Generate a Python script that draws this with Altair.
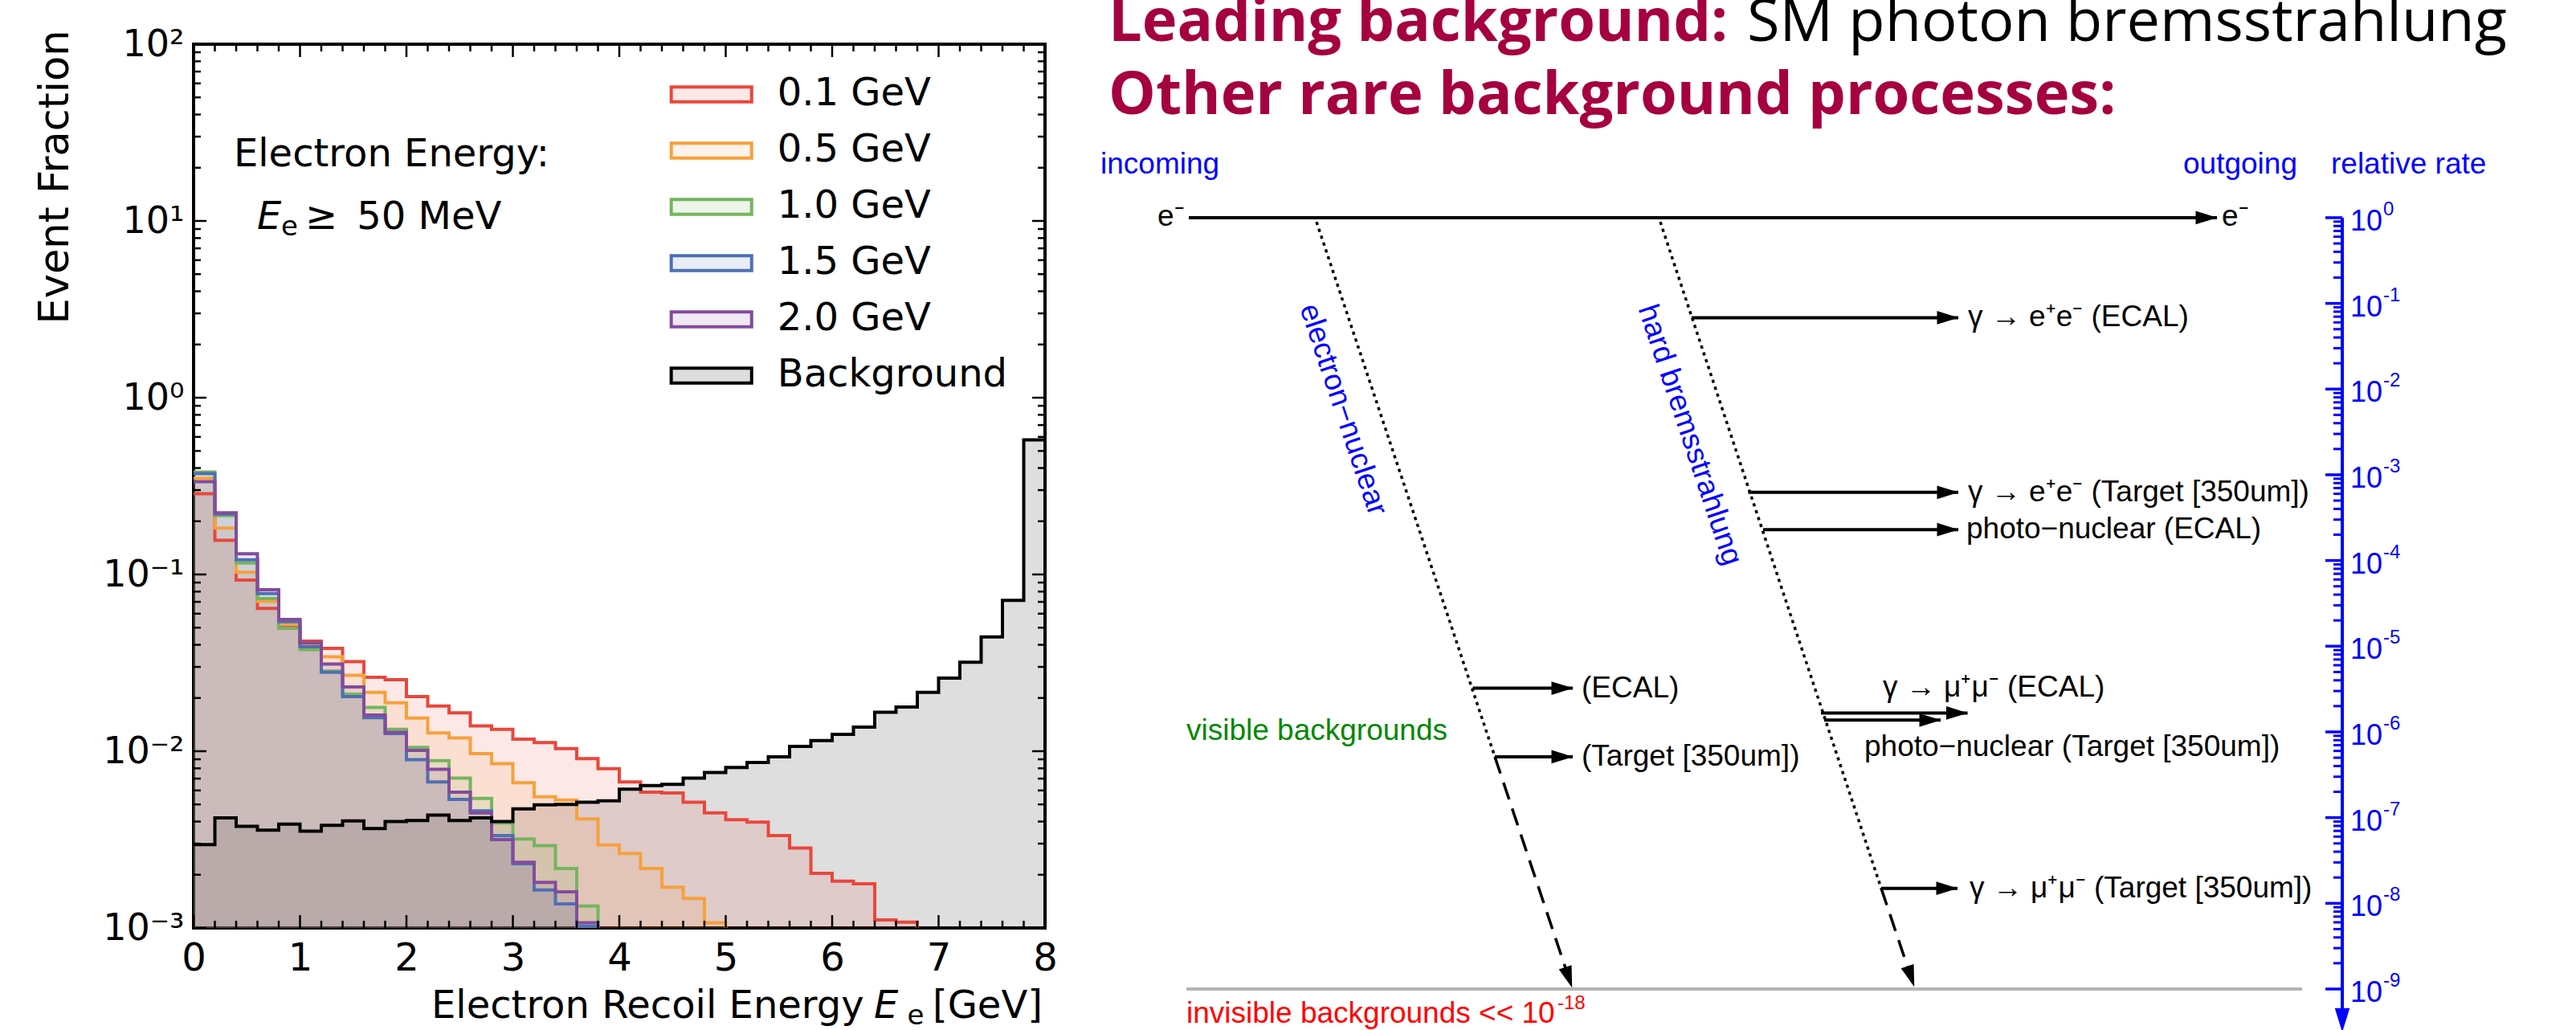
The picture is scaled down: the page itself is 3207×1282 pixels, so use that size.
import math
import altair as alt
import pandas as pd

# =====================================================================
# Left panel: electron recoil energy histograms (event fraction per bin)
# =====================================================================
series_names = ["0.1 GeV", "0.5 GeV", "1.0 GeV", "1.5 GeV", "2.0 GeV", "Background"]
line_colors = ["#e8473d", "#f6a13c", "#74b55e", "#4e6fb3", "#834b9b", "#000000"]
legend_fills = ["#fde8e7", "#fdf3ea", "#eef5ea", "#e9ecf5", "#f1e8f3", "#dedede"]

bin_edges = [round(0.2 * i, 1) for i in range(41)]  # 0 ... 8 GeV, 40 bins

frac_0p1 = [0.286, 0.156, 0.093, 0.0643, 0.0502, 0.042, 0.0382, 0.0321, 0.0262, 0.0254,
            0.0204, 0.018, 0.0165, 0.0139, 0.0133, 0.0117, 0.0112, 0.01035, 0.00908, 0.00796,
            0.0067, 0.00586, 0.0058, 0.00515, 0.00448, 0.0041, 0.00397, 0.00333, 0.00283, 0.00204,
            0.00184, 0.00178, 0.00111, 0.00108, 0, 0, 0, 0, 0, 0]
frac_0p5 = [0.35, 0.183, 0.103, 0.0705, 0.0527, 0.040, 0.0342, 0.0269, 0.0215, 0.0188,
            0.0154, 0.0127, 0.0119, 0.0097, 0.0085, 0.00663, 0.00552, 0.0053, 0.00414, 0.00295,
            0.00264, 0.00217, 0.0017, 0.00147, 0.00107, 0, 0, 0, 0, 0,
            0, 0, 0, 0, 0, 0, 0, 0, 0, 0]
frac_1p0 = [0.38, 0.215, 0.116, 0.073, 0.0496, 0.0376, 0.0284, 0.021, 0.0177, 0.0133,
            0.0105, 0.00884, 0.00705, 0.0054, 0.00393, 0.00319, 0.00292, 0.00217, 0.00133, 0,
            0, 0, 0, 0, 0, 0, 0, 0, 0, 0,
            0, 0, 0, 0, 0, 0, 0, 0, 0, 0]
frac_1p5 = [0.372, 0.22, 0.121, 0.078, 0.054, 0.039, 0.028, 0.0204, 0.0155, 0.0126,
            0.00895, 0.0067, 0.00534, 0.0046, 0.00333, 0.00231, 0.00164, 0.00137, 0.00102, 0,
            0, 0, 0, 0, 0, 0, 0, 0, 0, 0,
            0, 0, 0, 0, 0, 0, 0, 0, 0, 0]
frac_2p0 = [0.335, 0.223, 0.131, 0.082, 0.0557, 0.041, 0.0311, 0.0231, 0.016, 0.0128,
            0.0101, 0.0079, 0.00587, 0.00448, 0.00316, 0.00235, 0.00181, 0.0016, 0.00107, 0,
            0, 0, 0, 0, 0, 0, 0, 0, 0, 0,
            0, 0, 0, 0, 0, 0, 0, 0, 0, 0]
frac_bkg = [0.00296, 0.0042, 0.00376, 0.00358, 0.00387, 0.00353, 0.00381, 0.00403, 0.00365, 0.0040,
            0.00405, 0.00435, 0.00405, 0.0042, 0.0040, 0.00472, 0.00497, 0.0050, 0.00515, 0.00524,
            0.0061, 0.0064, 0.0065, 0.00705, 0.00757, 0.0081, 0.00863, 0.0093, 0.01064, 0.0115,
            0.01245, 0.0137, 0.0166, 0.0178, 0.0215, 0.0259, 0.0319, 0.0443, 0.0713, 0.578]

all_fracs = [frac_0p1, frac_0p5, frac_1p0, frac_1p5, frac_2p0, frac_bkg]

x_major_ticks = [0, 1, 2, 3, 4, 5, 6, 7, 8]
x_minor_ticks = [round(0.2 * i, 1) for i in range(41) if i % 5 != 0]
y_major_ticks = [1e-3, 1e-2, 1e-1, 1e0, 1e1, 1e2]
y_minor_ticks = [m * 10.0 ** k for k in range(-3, 2) for m in range(2, 10)]

FLOOR = 1e-6          # drawing floor for empty bins (outside the visible range)
Y_MIN, Y_MAX = 1e-3, 1e2

rows = []
for idx in [5, 0, 1, 2, 3, 4]:
    name, vals = series_names[idx], all_fracs[idx]
    for i in range(40):
        rows.append({"series": name, "E": bin_edges[i], "frac": vals[i] if vals[i] > 0 else FLOOR,
                     "base": Y_MIN, "hidden": FLOOR})
    rows.append({"series": name, "E": bin_edges[40], "frac": vals[-1] if vals[-1] > 0 else FLOOR,
                 "base": Y_MIN, "hidden": FLOOR})
hist_df = pd.DataFrame(rows)

LFONT = "DejaVu Sans"
XS = alt.Scale(domain=[0, 8], nice=False, zero=False)
YS = alt.Scale(type="log", domain=[Y_MIN, Y_MAX], nice=False)
# colour scale for the drawn histograms (kept distinct from the legend scales)
cscale = alt.Scale(domain=series_names + ["_"], range=line_colors + ["#000000"])

y_label_expr = ("datum.value >= 50 ? '10\u00b2' : datum.value >= 5 ? '10\u00b9' : "
                "datum.value >= 0.5 ? '10\u2070' : datum.value >= 0.05 ? '10\u207b\u00b9' : "
                "datum.value >= 0.005 ? '10\u207b\u00b2' : '10\u207b\u00b3'")

x_main = alt.X("E:Q", scale=XS, axis=alt.Axis(
    values=x_major_ticks, format="d", ticks=False, domain=False, grid=False,
    labelFont=LFONT, labelFontSize=48, labelColor="black", labelPadding=14, labelFlush=False,
    title=""))
y_main = alt.Y("frac:Q", stack=None, scale=YS, axis=alt.Axis(
    values=y_major_ticks, labelExpr=y_label_expr, ticks=False, domain=False, grid=False,
    labelFont=LFONT, labelFontSize=46, labelColor="black", labelPadding=12, labelFlush=False,
    title="Event Fraction", titleFont=LFONT, titleFontSize=51,
    titleFontWeight="normal", titleColor="black", titleAngle=270, titleX=-172, titleY=165,
    titleAlign="center", titleBaseline="middle"))

xq = alt.X("E:Q", scale=XS)
yq = alt.Y("frac:Q", stack=None, scale=YS)

base = alt.Chart(hist_df)
area_bkg = base.transform_filter(alt.datum.series == "Background").mark_area(
    interpolate="step-after", fillOpacity=0.13, clip=True).encode(
    x=x_main, y=y_main, y2="base:Q", color=alt.Color("series:N", scale=cscale, legend=None))
area_sig = base.transform_filter(alt.datum.series != "Background").mark_area(
    interpolate="step-after", fillOpacity=0.125, clip=True).encode(
    x=xq, y=yq, y2="base:Q", color=alt.Color("series:N", scale=cscale, legend=None))
line_sig = base.transform_filter(alt.datum.series != "Background").mark_line(
    interpolate="step-after", strokeWidth=4, clip=True).encode(
    x=xq, y=yq, color=alt.Color("series:N", scale=cscale, legend=None))
line_bkg = base.transform_filter(alt.datum.series == "Background").mark_line(
    interpolate="step-after", strokeWidth=4, clip=True).encode(
    x=xq, y=yq, color=alt.Color("series:N", scale=cscale, legend=None))

# legend: a filled-patch legend and an outline legend drawn on top of each other
leg_common = dict(orient="none", legendX=607.7, legendY=25.4,
                  symbolType="M-1.43,-0.264H1.43V0.264H-1.43Z", symbolSize=4900,
                  symbolStrokeWidth=4, labelFont=LFONT, labelFontSize=48, labelColor="black",
                  labelOffset=45, labelLimit=500, rowPadding=9, padding=0, values=series_names)
legend_fill_layer = base.mark_point(filled=True, opacity=1, clip=True).encode(
    x=xq, y=alt.Y("hidden:Q", scale=YS),
    fill=alt.Fill("series:N", title="",
                  scale=alt.Scale(domain=series_names, range=legend_fills),
                  legend=alt.Legend(symbolStrokeColor="transparent", **leg_common)))
legend_line_layer = base.mark_point(filled=False, opacity=1, strokeWidth=4, clip=True).encode(
    x=xq, y=alt.Y("hidden:Q", scale=YS),
    stroke=alt.Stroke("series:N", title="",
                      scale=alt.Scale(domain=series_names[::-1], range=line_colors[::-1]),
                      legend=alt.Legend(symbolFillColor="transparent", labelOpacity=0,
                                        **leg_common)))

TICKW = 2.5
def xtick_layer(vals, yv, off):
    return alt.Chart(pd.DataFrame({"E": vals})).mark_rule(
        color="black", strokeWidth=TICKW, y2Offset=off).encode(
        x=xq, y=alt.YDatum(yv, scale=YS), y2=alt.Y2Datum(yv))

def ytick_layer(vals, xv, off):
    return alt.Chart(pd.DataFrame({"frac": vals})).mark_rule(
        color="black", strokeWidth=TICKW, x2Offset=off).encode(
        y=alt.Y("frac:Q", scale=YS), x=alt.XDatum(xv, scale=XS), x2=alt.X2Datum(xv))

tick_layers = [
    xtick_layer(x_major_ticks, Y_MIN, -16), xtick_layer(x_minor_ticks, Y_MIN, -9),
    xtick_layer(x_major_ticks, Y_MAX, 16), xtick_layer(x_minor_ticks, Y_MAX, 9),
    ytick_layer(y_major_ticks, 0, 16), ytick_layer(y_minor_ticks, 0, 9),
    ytick_layer(y_major_ticks, 8, -16), ytick_layer(y_minor_ticks, 8, -9),
]

# annotations: "Electron Energy:" / "E_e >= 50 MeV" and the x-axis title with italic E_e
annot_text = ["Electron Energy:", "E", "e", "\u2265\u200250 MeV",
              "Electron Recoil Energy", "E", "e", "[GeV]"]
annot_E = [0.377, 0.596, 0.823, 1.049, 2.234, 6.392, 6.705, 6.943]
annot_frac = [20.4, 9.0, 8.28, 9.0, 3.1e-4, 3.1e-4, 2.85e-4, 3.1e-4]
annot_size = [48, 48, 34, 48, 48, 48, 34, 48]
annot_style = ["normal", "italic", "normal", "normal", "normal", "italic", "normal", "normal"]

def ann_layer(i):
    df = pd.DataFrame({"E": [annot_E[i]], "frac": [annot_frac[i]], "t": [annot_text[i]]})
    return alt.Chart(df).mark_text(align="left", baseline="alphabetic", font=LFONT,
                                   fontSize=annot_size[i], fontStyle=annot_style[i],
                                   color="black").encode(
        x=xq, y=alt.Y("frac:Q", scale=YS), text="t:N")

ann_layers = [ann_layer(i) for i in range(len(annot_text))]

left = alt.layer(area_bkg, area_sig, line_sig, line_bkg, legend_fill_layer, legend_line_layer,
                 *tick_layers, *ann_layers).properties(
    width=1060, height=1100, view=alt.ViewBackground(stroke="black", strokeWidth=4))

# =====================================================================
# Right panel: schematic of rare background processes vs relative rate
# u = horizontal position along the diagram, lg = log10(relative rate)
# =====================================================================
RFONT = "Liberation Sans"
MAGENTA = "#a5003f"

arrow_u0 = [113, 739, 809.5, 828, 900, 904, 975, 466.5, 494]
arrow_u1 = [1393, 1071, 1071, 1071, 1082.5, 1049, 1070, 591, 591]
arrow_lg = [0.0, -1.167, -3.205, -3.64, -5.779, -5.862, -7.825, -5.49, -6.29]

branch_text = ["\u03b3 \u2192 e\u207ae\u207b (ECAL)", "\u03b3 \u2192 e\u207ae\u207b (Target [350um])",
               "photo\u2212nuclear (ECAL)", "\u03b3 \u2192 \u03bc\u207a\u03bc\u207b (ECAL)",
               "photo\u2212nuclear (Target [350um])", "\u03b3 \u2192 \u03bc\u207a\u03bc\u207b (Target [350um])",
               "(ECAL)", "(Target [350um])"]
branch_u = [1083, 1083, 1081, 977, 954, 1085, 602, 602]
branch_lg = [-1.167, -3.205, -3.64, -5.489, -6.176, -7.825, -5.49, -6.29]

dotted_u0 = [272, 700]
dotted_lg0 = [-0.05, -0.05]
dotted_u1 = [494, 975]
dotted_lg1 = [-6.29, -7.825]

dashed_u0 = [494, 975]
dashed_lg0 = [-6.29, -7.825]
dashed_u1 = [590, 1016]
dashed_lg1 = [-8.98, -8.97]
dashed_head_u = [585.9, 1011.9]
dashed_head_lg = [-8.865, -8.854]
slant_angle = 71.5

process_labels = ["electron\u2212nuclear", "hard bremsstrahlung"]
process_u = [305, 736.5]
process_lg = [-2.24, -2.535]

header_text = ["incoming", "outgoing", "relative rate"]
header_u = [3, 1351, 1535]
header_lg = [0.515, 0.515, 0.515]

electron_text = ["e\u207b", "e\u207b"]
electron_u = [74, 1399]
electron_lg = [-0.094, -0.094]

rate_axis_u = 1549
rate_axis_top_lg = 0.0
rate_axis_head_lg = -9.363
rate_exponents = [0, -1, -2, -3, -4, -5, -6, -7, -8, -9]
rate_minor_lg = [math.log10(m) + k for k in range(-9, 0) for m in range(2, 10)]
label_u = 1559

floor_line_u = [110, 1499]
floor_lg = -9.0

title1_bold = "Leading background:"
title1_rest = "SM photon bremsstrahlung"
title2_bold = "Other rare background processes:"
title_u = [13, 808, 13]
title_lg = [2.062, 2.062, 1.209]

RX = alt.Scale(domain=[0, 1800], nice=False, zero=False)
RY = alt.Scale(type="log", domain=[10 ** -9.525, 10 ** 2.0243], nice=False)

def rx(f):
    return alt.X(f, type="quantitative", scale=RX, axis=None)

def ry(f):
    return alt.Y(f, type="quantitative", scale=RY, axis=None)

def r(lgs):
    return [10 ** v for v in lgs]

ARROW = "M-1,-0.62L1,0L-1,0.62Z"

arr_df = pd.DataFrame({"u0": arrow_u0, "u1": arrow_u1, "r": r(arrow_lg)})
h_arrows = alt.Chart(arr_df).mark_rule(color="black", strokeWidth=4).encode(
    x=rx("u0"), x2="u1", y=ry("r"))
h_heads = alt.Chart(arr_df).mark_point(shape=ARROW, filled=True, size=729, color="black",
                                      opacity=1, xOffset=-13).encode(x=rx("u1"), y=ry("r"))

dot_df = pd.DataFrame({"u0": dotted_u0, "u1": dotted_u1, "r0": r(dotted_lg0), "r1": r(dotted_lg1)})
dotted = alt.Chart(dot_df).mark_rule(color="black", strokeWidth=3.5, strokeDash=[4, 5]).encode(
    x=rx("u0"), x2="u1", y=ry("r0"), y2="r1")
dsh_df = pd.DataFrame({"u0": dashed_u0, "u1": dashed_u1, "r0": r(dashed_lg0), "r1": r(dashed_lg1)})
dashed = alt.Chart(dsh_df).mark_rule(color="black", strokeWidth=3.5, strokeDash=[22, 12]).encode(
    x=rx("u0"), x2="u1", y=ry("r0"), y2="r1")
dh_df = pd.DataFrame({"u": dashed_head_u, "r": r(dashed_head_lg)})
dashed_heads = alt.Chart(dh_df).mark_point(shape=ARROW, filled=True, size=729, color="black",
                                          opacity=1, angle=slant_angle).encode(x=rx("u"), y=ry("r"))

floor_df = pd.DataFrame({"u0": [floor_line_u[0]], "u1": [floor_line_u[1]], "r": r([floor_lg])})
floor_rule = alt.Chart(floor_df).mark_rule(color="#b4b4b4", strokeWidth=4).encode(
    x=rx("u0"), x2="u1", y=ry("r"))

ax_df = pd.DataFrame({"u": [rate_axis_u], "r0": r([rate_axis_top_lg]), "r1": r([rate_axis_head_lg])})
ax_line = alt.Chart(ax_df).mark_rule(color="blue", strokeWidth=4).encode(
    x=rx("u"), x2="u", y=ry("r0"), y2="r1")
ax_head = alt.Chart(ax_df).mark_point(shape=ARROW, filled=True, size=900, color="blue",
                                     opacity=1, angle=90).encode(x=rx("u"), y=ry("r1"))
maj_df = pd.DataFrame({"u": [rate_axis_u] * len(rate_exponents), "r": r(rate_exponents),
                       "lu": [label_u] * len(rate_exponents),
                       "sup": [str(e) for e in rate_exponents]})
min_df = pd.DataFrame({"u": [rate_axis_u] * len(rate_minor_lg), "r": r(rate_minor_lg)})
ax_major = alt.Chart(maj_df).mark_rule(color="blue", strokeWidth=3.5, x2Offset=-21).encode(
    x=rx("u"), x2="u", y=ry("r"))
ax_minor = alt.Chart(min_df).mark_rule(color="blue", strokeWidth=3, x2Offset=-11).encode(
    x=rx("u"), x2="u", y=ry("r"))
ax_lab = alt.Chart(maj_df).mark_text(align="left", baseline="alphabetic", dy=16, fontSize=36,
                                     font=RFONT, color="blue", text="10").encode(
    x=rx("lu"), y=ry("r"))
ax_sup = alt.Chart(maj_df).mark_text(align="left", baseline="alphabetic", dx=41, dy=-3, fontSize=24,
                                     font=RFONT, color="blue").encode(
    x=rx("lu"), y=ry("r"), text="sup:N")

def text_layer(texts, us, lgs, **kw):
    df = pd.DataFrame({"u": us, "r": r(lgs), "t": texts})
    return alt.Chart(df).mark_text(**kw).encode(x=rx("u"), y=ry("r"), text="t:N")

branch_txt = text_layer(branch_text, branch_u, branch_lg, align="left", baseline="middle",
                        fontSize=37, font=RFONT, color="black")
header_txt = text_layer(header_text, header_u, header_lg, align="left", baseline="alphabetic",
                        fontSize=37, font=RFONT, color="blue")
electron_txt = text_layer(electron_text, electron_u, electron_lg, align="left",
                          baseline="alphabetic", fontSize=37, font=RFONT, color="black")
process_txt = text_layer(process_labels, process_u, process_lg, align="center", baseline="middle",
                         fontSize=37, font=RFONT, color="blue", angle=slant_angle)
visible_txt = text_layer(["visible backgrounds"], [110], [-6.09], align="left",
                         baseline="alphabetic", fontSize=37, font=RFONT, color="#008800")
invisible_txt = text_layer(["invisible backgrounds << 10"], [110], [-9.391], align="left",
                           baseline="alphabetic", fontSize=37, font=RFONT, color="red")
invisible_sup = text_layer(["-18"], [572], [-9.232], align="left", baseline="alphabetic",
                           fontSize=24, font=RFONT, color="red")
t1a = text_layer([title1_bold], [title_u[0]], [title_lg[0]], align="left", baseline="alphabetic",
                 fontSize=74, font="Open Sans", fontWeight="bold", color=MAGENTA)
t1b = text_layer([title1_rest], [title_u[1]], [title_lg[1]], align="left", baseline="alphabetic",
                 fontSize=74, font="Open Sans", color="black")
t2 = text_layer([title2_bold], [title_u[2]], [title_lg[2]], align="left", baseline="alphabetic",
                fontSize=74, font="Open Sans", fontWeight="bold", color=MAGENTA)

right = alt.layer(floor_rule, dotted, dashed, dashed_heads, h_arrows, h_heads,
                  ax_line, ax_head, ax_major, ax_minor, ax_lab, ax_sup,
                  branch_txt, header_txt, electron_txt, process_txt, visible_txt,
                  invisible_txt, invisible_sup, t1a, t1b, t2).properties(
    width=1800, height=1232, view=alt.ViewBackground(stroke="transparent", strokeWidth=0))

chart = alt.hconcat(left, right, spacing=48).properties(
    padding={"left": 41, "top": -9, "right": 0, "bottom": 0}).configure(background="white")

chart.save("out.html", embed_options={"renderer": "svg", "actions": False})
